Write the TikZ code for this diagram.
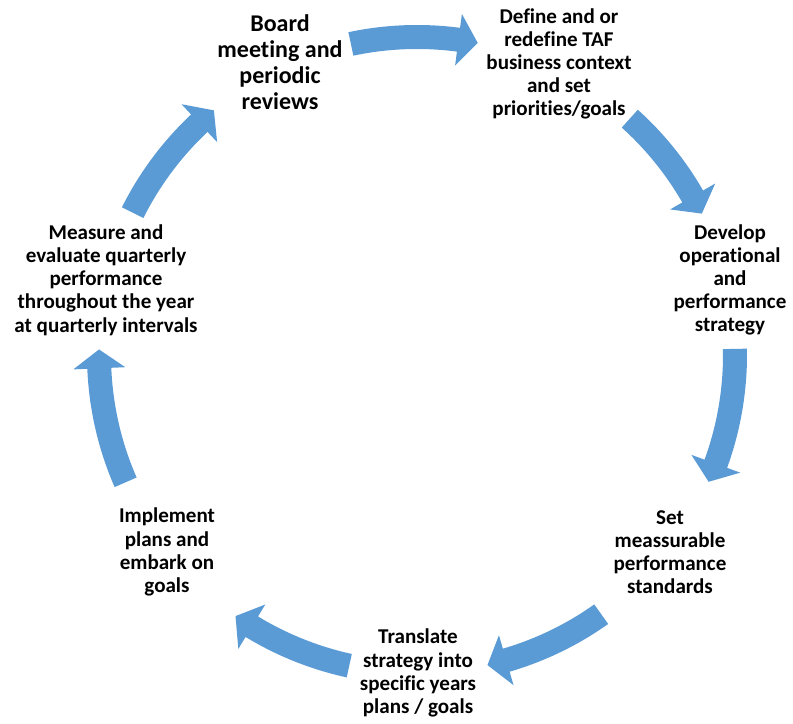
\documentclass[tikz,border=0pt]{standalone}
\usepackage{fontspec}
\setmainfont{Carlito}[Ligatures=NoCommon]
\definecolor{arrowblue}{HTML}{5B9BD5}
\tikzset{
  arrowfill/.style={fill=arrowblue, draw=none},
  stagetext/.style={align=center, font=\bfseries\fontsize{15.8}{17.4}\selectfont, inner sep=0pt},
  bigtext/.style={align=center, font=\bfseries\fontsize{18}{19.5}\selectfont, inner sep=0pt}
}
\newcommand{\cycarrow}[3]{%
  \fill[arrowfill] (#1:229.5pt) arc[start angle=#1, end angle=#2, radius=229.5pt]
    -- (#2:219pt) -- (#3:238.5pt) -- (#2:258pt) -- (#2:247.5pt)
    arc[start angle=#2, end angle=#1, radius=247.5pt] -- cycle;}
\begin{document}
\begin{tikzpicture}[x=0.75pt, y=0.75pt]
\useasboundingbox (0,0) rectangle (793,724);
\coordinate (C) at (417,369);
\begin{scope}[shift={(C)}]
  \cycarrow{102}{82.5}{79}
  \cycarrow{48}{29.9}{26.4}
  \cycarrow{1.1}{-20}{-23.5}
  \cycarrow{-54.6}{-73.7}{-77.2}
  \cycarrow{-102.3}{-121.3}{-124.8}
  \cycarrow{-156.4}{-177.6}{-181}
  \cycarrow{153.4}{133.2}{129.7}
\end{scope}
\node[bigtext] (board) at (280,662) {Board\\meeting and\\periodic\\reviews};
\node[stagetext] (define) at (559,660) {Define and or\\redefine TAF\\business context\\and set\\priorities/goals};
\node[stagetext] (develop) at (730,444) {Develop\\operational\\and\\performance\\strategy};
\node[stagetext] (set) at (670,172) {Set\\meassurable\\performance\\standards};
\node[stagetext] (translate) at (418,51) {Translate\\strategy into\\specific years\\plans / goals};
\node[stagetext] (implement) at (167,172) {Implement\\plans and\\embark on\\goals};
\node[stagetext] (measure) at (106,444) {Measure and\\evaluate quarterly\\performance\\throughout the year\\at quarterly intervals};
\end{tikzpicture}
\end{document}
